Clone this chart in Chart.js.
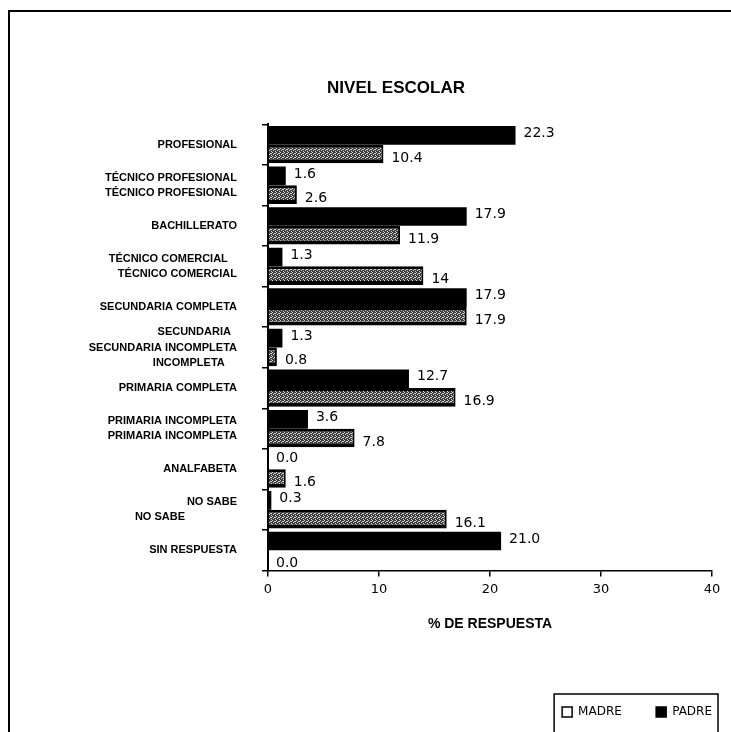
<!DOCTYPE html>
<html>
<head>
<meta charset="utf-8">
<script src="https://cdn.jsdelivr.net/npm/chart.js@4.4.1/dist/chart.umd.min.js"></script>
<style>
  html, body { margin: 0; padding: 0; background: #fff; }
  #wrap { position: relative; width: 731px; height: 732px; overflow: hidden; }
  #frame { position: absolute; left: 8px; top: 10px; width: 760px; height: 760px;
           border-left: 2px solid #000; border-top: 2px solid #000; }
  canvas { position: absolute; left: 0; top: 0; }
</style>
</head>
<body>
<div id="wrap">
  <div id="frame"></div>
  <canvas id="chart" width="731" height="732"></canvas>
</div>
<script>
// Nivel escolar de los padres (% de respuesta)
const categories = [
  'PROFESIONAL',
  ['TÉCNICO PROFESIONAL', 'TÉCNICO PROFESIONAL'],
  'BACHILLERATO',
  ['TÉCNICO COMERCIAL   ', 'TÉCNICO COMERCIAL'],
  'SECUNDARIA COMPLETA',
  ['SECUNDARIA  ', 'SECUNDARIA INCOMPLETA', 'INCOMPLETA    '],
  'PRIMARIA COMPLETA',
  ['PRIMARIA INCOMPLETA', 'PRIMARIA INCOMPLETA'],
  'ANALFABETA',
  ['NO SABE', 'NO SABE                 '],
  'SIN RESPUESTA'
];
const padreText = ['22.3', '1.6', '17.9', '1.3', '17.9', '1.3', '12.7', '3.6', '0.0', '0.3', '21.0'];
const madreText = ['10.4', '2.6', '11.9', '14', '17.9', '0.8', '16.9', '7.8', '1.6', '16.1', '0.0'];
const xTicks = [0, 10, 20, 30, 40];

const padreValues = padreText.map(Number);
const madreValues = madreText.map(Number);

// speckled grey fill for the MADRE bars
function speckle() {
  const c = document.createElement('canvas');
  c.width = 4; c.height = 4;
  const g = c.getContext('2d');
  g.fillStyle = '#3a3a3a';
  g.fillRect(0, 0, 4, 4);
  g.fillStyle = '#d8d8d8';
  [[0, 0], [2, 1], [1, 2], [3, 3], [3, 1]].forEach(([x, y]) => g.fillRect(x, y, 1, 1));
  return c.getContext('2d').createPattern(c, 'repeat');
}

const LABEL_FONT = '"Liberation Sans", Arial, sans-serif';

const valueLabels = {
  id: 'valueLabels',
  afterDatasetsDraw(chart) {
    const ctx = chart.ctx;
    ctx.save();
    ctx.font = '14px "DejaVu Sans", sans-serif';
    ctx.fillStyle = '#000';
    ctx.textAlign = 'left';
    ctx.textBaseline = 'middle';
    chart.data.datasets.forEach((ds, i) => {
      chart.getDatasetMeta(i).data.forEach((bar, j) => {
        ctx.fillText(ds.valueText[j], bar.x + 8, bar.y + (i === 1 ? 4 : -2));
      });
    });
    ctx.restore();
  }
};

const legendFrame = {
  id: 'legendFrame',
  afterDraw(chart) {
    const boxes = chart.legend.legendHitBoxes;
    if (!boxes || !boxes.length) return;
    const left = Math.min(...boxes.map(b => b.left));
    const right = Math.max(...boxes.map(b => b.left + b.width));
    const top = Math.min(...boxes.map(b => b.top));
    const ctx = chart.ctx;
    ctx.save();
    ctx.strokeStyle = '#000';
    ctx.lineWidth = 1.5;
    ctx.strokeRect(left - 8, top - 12, right - left + 14, 80);
    ctx.restore();
  }
};

new Chart(document.getElementById('chart'), {
  type: 'bar',
  data: {
    labels: categories,
    datasets: [
      {
        label: 'PADRE',
        data: padreValues,
        valueText: padreText,
        backgroundColor: '#000',
        borderWidth: 0,
        categoryPercentage: 0.92,
        barPercentage: 1.0
      },
      {
        label: 'MADRE',
        data: madreValues,
        valueText: madreText,
        backgroundColor: speckle(),
        borderColor: '#000',
        borderWidth: { top: 3, bottom: 4, right: 2, left: 0 },
        borderSkipped: 'start',
        categoryPercentage: 0.92,
        barPercentage: 1.0
      }
    ]
  },
  options: {
    indexAxis: 'y',
    responsive: false,
    animation: false,
    devicePixelRatio: 1,
    layout: { padding: { left: 80, right: 19, top: 0, bottom: 4 } },
    scales: {
      x: {
        min: 0,
        max: 40,
        afterBuildTicks(scale) { scale.ticks = xTicks.map(v => ({ value: v })); },
        grid: { drawOnChartArea: false, drawTicks: true, tickLength: 6, color: '#000', lineWidth: 1.5 },
        border: { color: '#000', width: 1.5 },
        ticks: { color: '#000', padding: 5, font: { family: '"DejaVu Sans", sans-serif', size: 13 } },
        title: {
          display: true,
          text: '% DE RESPUESTA',
          color: '#000',
          font: { family: '"Liberation Sans", Arial, sans-serif', size: 14, weight: 'bold' },
          padding: { top: 14, bottom: 73 }
        }
      },
      y: {
        afterFit(scale) { scale.width = 188; },
        grid: { drawOnChartArea: false, drawTicks: true, tickLength: 6, color: '#000', lineWidth: 1.5, offset: true },
        border: { color: '#000', width: 2 },
        ticks: {
          color: '#000',
          padding: 25,
          autoSkip: false,
          font: { family: LABEL_FONT, size: 11, weight: 'bold', lineHeight: 1.4 }
        }
      }
    },
    plugins: {
      title: {
        display: true,
        text: 'NIVEL ESCOLAR',
        color: '#000',
        font: { family: LABEL_FONT, size: 17, weight: 'bold' },
        padding: { top: 78, bottom: 26 }
      },
      legend: {
        position: 'bottom',
        align: 'end',
        labels: {
          color: '#000',
          boxWidth: 10,
          boxHeight: 10,
          padding: 0,
          font: { family: '"DejaVu Sans", sans-serif', size: 12 },
          generateLabels(chart) {
            const items = Chart.defaults.plugins.legend.labels.generateLabels(chart);
            items.forEach(it => {
              it.strokeStyle = '#000';
              it.lineWidth = 1.5;
              if (it.datasetIndex === 1) {
                it.fillStyle = '#fff';
                it.text = it.text + '         ';
              }
            });
            return items;
          },
          sort: (a, b) => b.datasetIndex - a.datasetIndex
        }
      },
      tooltip: { enabled: false }
    }
  },
  plugins: [valueLabels, legendFrame]
});
</script>
</body>
</html>
